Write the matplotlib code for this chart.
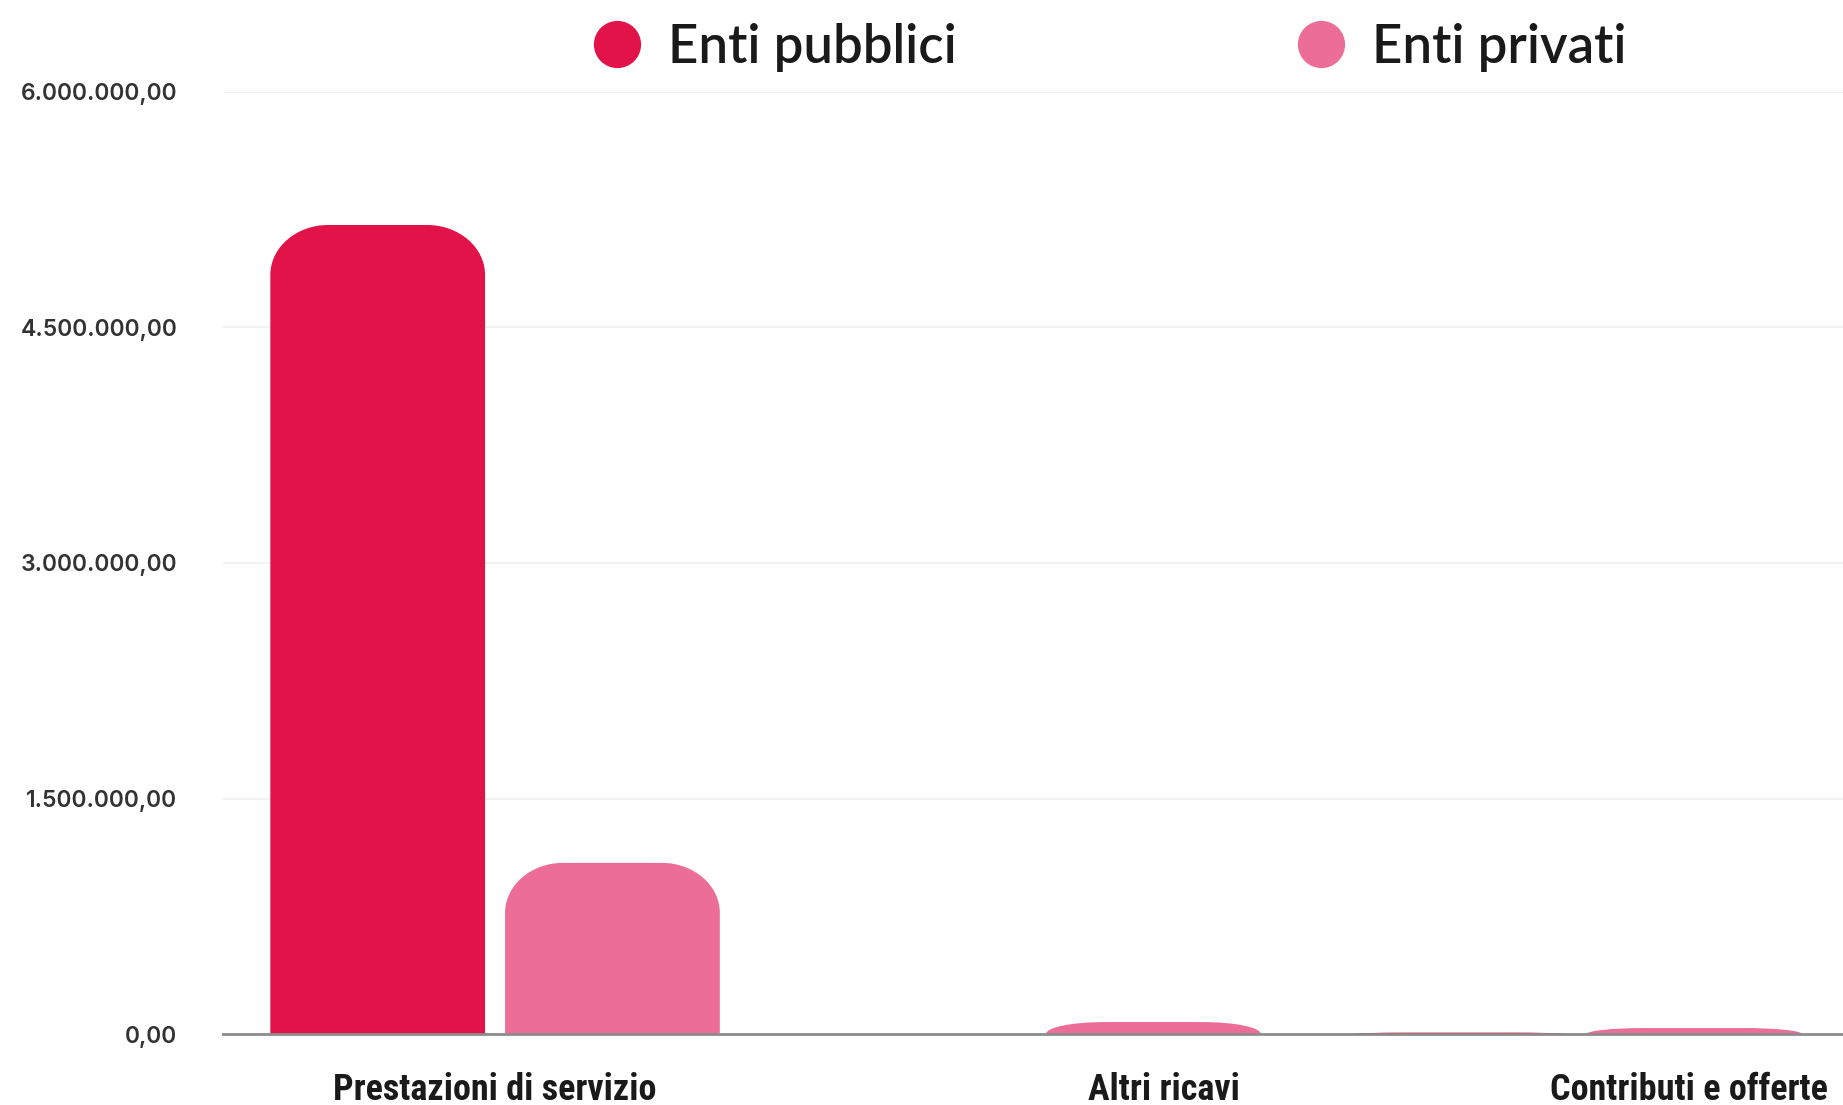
import numpy as np
import matplotlib
matplotlib.use("Agg")
import matplotlib.pyplot as plt
from matplotlib.path import Path
from matplotlib.patches import PathPatch
from matplotlib.lines import Line2D
from matplotlib.ticker import FuncFormatter

# ---- data ------------------------------------------------------------------
categories = ["Prestazioni di servizio", "Altri ricavi", "Contributi e offerte"]
series = ["Enti pubblici", "Enti privati"]
pubblici = [5_153_000, 0, 9_000]
privati = [1_090_000, 76_000, 38_000]
y_ticks = [0, 1_500_000, 3_000_000, 4_500_000, 6_000_000]

# ---- style -----------------------------------------------------------------
RED, PINK = "#e11349", "#ec6e98"
INK, GRID, BASE = "#1a1a1a", "#f1f1f1", "#8c8c8c"
W, H, DPI = 1843, 1105, 100
BAR_W, OFF = 0.397, 0.217
LABEL_SHIFT = [0.0, 0.237, 0.208]   # category labels sit a bit right on the reference
RX_PX, RY_PX = 58, 50               # corner radius of the rounded bar tops


def it_fmt(v, _):
    s = f"{v:,.2f}"
    return s.replace(",", "X").replace(".", ",").replace("X", ".")


def round_tops(ax, bars, color):
    # swap each plain rectangle for one with rounded top corners
    fig = ax.figure
    bb = ax.get_position()
    x0, x1 = ax.get_xlim()
    y0, y1 = ax.get_ylim()
    ux = (x1 - x0) / (bb.width * fig.get_figwidth() * fig.dpi)
    uy = (y1 - y0) / (bb.height * fig.get_figheight() * fig.dpi)
    k = 0.5523
    for r in bars:
        xl, w, h = r.get_x(), r.get_width(), r.get_height()
        r.set_visible(False)
        if h <= 0:
            continue
        rx = min(RX_PX * ux, w / 2)
        ry = min(RY_PX * uy, h)
        xr = xl + w
        verts = [(xl, 0), (xl, h - ry),
                 (xl, h - ry + k * ry), (xl + rx - k * rx, h), (xl + rx, h),
                 (xr - rx, h),
                 (xr - rx + k * rx, h), (xr, h - ry + k * ry), (xr, h - ry),
                 (xr, 0), (xl, 0)]
        codes = [Path.MOVETO, Path.LINETO,
                 Path.CURVE4, Path.CURVE4, Path.CURVE4,
                 Path.LINETO,
                 Path.CURVE4, Path.CURVE4, Path.CURVE4,
                 Path.LINETO, Path.CLOSEPOLY]
        ax.add_patch(PathPatch(Path(verts, codes), facecolor=color,
                               edgecolor="none", zorder=3))


fig = plt.figure(figsize=(W / DPI, H / DPI), dpi=DPI, facecolor="white")
ax = fig.add_axes([223 / W, (H - 1034) / H, 1 - 223 / W, (1034 - 92) / H])

x = np.arange(len(categories))
b1 = ax.bar(x - OFF, pubblici, BAR_W, color=RED)
b2 = ax.bar(x + OFF, privati, BAR_W, color=PINK)
ax.set_xlim(-0.503, 2.492)
ax.set_ylim(0, 6_000_000)
round_tops(ax, b1, RED)
round_tops(ax, b2, PINK)

ax.set_yticks(y_ticks)
ax.yaxis.set_major_formatter(FuncFormatter(it_fmt))
ax.set_xticks(x + np.array(LABEL_SHIFT))
ax.set_xticklabels(categories)
ax.grid(axis="y", color=GRID, lw=1.3, zorder=0)
ax.set_axisbelow(True)
for s in ("top", "right", "left"):
    ax.spines[s].set_visible(False)
ax.spines["bottom"].set_color(BASE)
ax.spines["bottom"].set_linewidth(2)
ax.spines["bottom"].set_zorder(4)
ax.tick_params(axis="y", length=0, pad=33, labelsize=16.5, labelcolor="#333333")
ax.tick_params(axis="x", length=0, pad=27, labelsize=26, labelcolor=INK)
for t in ax.get_yticklabels():
    t.set_family(["Inter", "DejaVu Sans"])
    t.set_fontweight("semibold")
for t in ax.get_xticklabels():
    t.set_family(["Roboto Condensed", "Roboto", "DejaVu Sans"])
    t.set_fontweight("bold")

handles = [Line2D([], [], ls="none", marker="o", ms=34, mec="none", mfc=c)
           for c in (RED, PINK)]
fig.legend(handles, series, loc="center left", bbox_to_anchor=(596 / W, 1 - 47 / H),
           ncol=2, frameon=False, handletextpad=0.57, columnspacing=6.5,
           handlelength=0.8, borderaxespad=0, borderpad=0,
           prop={"family": ["Lato", "DejaVu Sans"], "size": 38, "weight": "semibold"},
           labelcolor=INK)

fig.savefig("out.png", dpi=DPI, facecolor="white")
